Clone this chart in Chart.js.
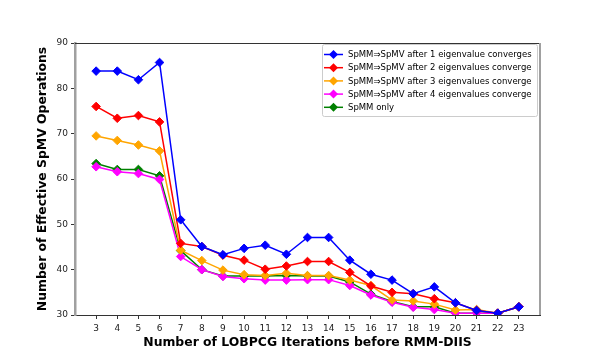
<!DOCTYPE html>
<html>
<head>
<meta charset="utf-8">
<script src="https://cdn.jsdelivr.net/npm/chart.js@4/dist/chart.umd.min.js"></script>
<style>
  html, body { margin: 0; padding: 0; background: #fff; }
  #wrap { width: 600px; height: 360px; }
</style>
</head>
<body>
<div id="wrap"><canvas id="lobpcg"></canvas></div>
<script>
const iterations = [3, 4, 5, 6, 7, 8, 9, 10, 11, 12, 13, 14, 15, 16, 17, 18, 19, 20, 21, 22, 23];
const yTicks = [30, 40, 50, 60, 70, 80, 90];

const after1 = [83.8, 83.8, 81.9, 85.7, 51.0, 45.1, 43.3, 44.7, 45.4, 43.4, 47.1, 47.1, 42.1, 39.0, 37.7, 34.7, 36.2, 32.7, 31.0, 30.4, 31.8];
const after2 = [76.0, 73.4, 74.0, 72.6, 45.8, 45.1, 43.2, 42.1, 40.1, 40.8, 41.8, 41.8, 39.4, 36.4, 35.0, 34.7, 33.6, 32.7, 31.0, 30.4, 31.8];
const after3 = [69.5, 68.5, 67.5, 66.2, 44.3, 42.0, 39.9, 38.9, 38.7, 39.2, 38.7, 38.7, 37.7, 36.5, 33.3, 33.1, 32.4, 31.1, 31.2, 30.4, 31.8];
const after4 = [62.7, 61.6, 61.2, 59.9, 42.9, 40.0, 38.5, 38.0, 37.7, 37.7, 37.8, 37.8, 36.5, 34.4, 32.8, 31.7, 31.2, 30.4, 30.4, 30.4, 31.8];
const spmmOnly = [63.4, 62.1, 62.1, 60.7, 44.2, 40.0, 38.6, 38.6, 38.6, 38.7, 38.6, 38.6, 37.3, 34.6, 33.0, 31.8, 31.8, 30.4, 30.4, 30.4, 31.8];

const labels = [
  'SpMM\u21D2SpMV after 1 eigenvalue converges',
  'SpMM\u21D2SpMV after 2 eigenvalues converge',
  'SpMM\u21D2SpMV after 3 eigenvalues converge',
  'SpMM\u21D2SpMV after 4 eigenvalues converge',
  'SpMM only'
];
const colors = ['#0000ff', '#ff0000', '#ffa500', '#ff00ff', '#008000'];
const series = [after1, after2, after3, after4, spmmOnly];

const FONT = "'DejaVu Sans', sans-serif";

function makeSet(i) {
  return {
    label: labels[i],
    data: iterations.map((x, k) => ({x: x, y: series[i][k]})),
    borderColor: colors[i],
    backgroundColor: colors[i],
    borderWidth: 1.5,
    pointStyle: 'rectRot',
    pointRadius: 4.3,
    pointHoverRadius: 4.3,
    pointBorderWidth: 1,
    tension: 0
  };
}

// matplotlib style box legend inside the plot, upper right
const boxLegend = {
  id: 'boxLegend',
  afterDatasetsDraw(chart) {
    const ctx = chart.ctx;
    const area = chart.chartArea;
    const right = area.right - 3, left = right - 215, top = area.top + 1, bottom = top + 72;
    ctx.save();
    ctx.fillStyle = 'rgba(255,255,255,0.85)';
    ctx.strokeStyle = '#cccccc';
    ctx.lineWidth = 1;
    ctx.beginPath();
    ctx.roundRect(left + 0.5, top + 0.5, right - left, bottom - top, 2);
    ctx.fill();
    ctx.stroke();
    ctx.font = '8.5px ' + FONT;
    ctx.textBaseline = 'middle';
    chart.data.datasets.forEach((ds, i) => {
      const y = top + 10.5 + i * 13.2;
      ctx.strokeStyle = ds.borderColor;
      ctx.lineWidth = 1.5;
      ctx.beginPath();
      ctx.moveTo(left + 2, y);
      ctx.lineTo(left + 21, y);
      ctx.stroke();
      ctx.fillStyle = ds.borderColor;
      ctx.beginPath();
      ctx.moveTo(left + 11.5, y - 4.5);
      ctx.lineTo(left + 16, y);
      ctx.lineTo(left + 11.5, y + 4.5);
      ctx.lineTo(left + 7, y);
      ctx.closePath();
      ctx.fill();
      ctx.fillStyle = '#000';
      ctx.fillText(ds.label, left + 26, y + 0.5);
    });
    ctx.restore();
  },
  beforeDatasetsDraw(chart) {
    // top and right spines
    const ctx = chart.ctx;
    const a = chart.chartArea;
    ctx.save();
    ctx.strokeStyle = '#333';
    ctx.lineWidth = 1;
    ctx.beginPath();
    ctx.moveTo(a.left, a.top + 0.5);
    ctx.lineTo(a.right, a.top + 0.5);
    ctx.stroke();
    ctx.strokeStyle = '#a0a0a0';
    ctx.lineWidth = 2;
    ctx.beginPath();
    ctx.moveTo(a.right, a.top);
    ctx.lineTo(a.right, a.bottom);
    ctx.stroke();
    ctx.restore();
  }
};

new Chart(document.getElementById('lobpcg'), {
  type: 'line',
  data: { datasets: [0, 1, 2, 3, 4].map(makeSet) },
  options: {
    responsive: true,
    maintainAspectRatio: false,
    animation: false,
    layout: { padding: { left: 0, right: 60, top: 43, bottom: 0 } },
    plugins: {
      legend: { display: false },
      tooltip: { enabled: false }
    },
    scales: {
      x: {
        type: 'linear',
        min: 2,
        max: 24,
        afterBuildTicks: (axis) => { axis.ticks = iterations.map(v => ({value: v})); },
        afterFit: (axis) => { axis.height = 45; },
        grid: { drawOnChartArea: false, drawTicks: true, tickLength: 4, color: '#333' },
        border: { color: '#333', width: 1 },
        ticks: { font: { family: FONT, size: 9 }, color: '#222', padding: 4, maxRotation: 0, autoSkip: false },
        title: {
          display: true,
          text: 'Number of LOBPCG Iterations before RMM-DIIS',
          font: { family: FONT, size: 12.4, weight: 'bold' },
          color: '#000',
          padding: { top: 0, bottom: 10 }
        }
      },
      y: {
        min: 30,
        max: 90,
        afterBuildTicks: (axis) => { axis.ticks = yTicks.map(v => ({value: v})); },
        afterFit: (axis) => { axis.width = 75; },
        grid: { drawOnChartArea: false, drawTicks: true, tickLength: 4, color: '#333' },
        border: { color: '#a0a0a0', width: 2.5 },
        ticks: { font: { family: FONT, size: 9 }, color: '#222', padding: 3 },
        title: {
          display: true,
          text: 'Number of Effective SpMV Operations',
          font: { family: FONT, size: 12.4, weight: 'bold' },
          color: '#000',
          padding: { top: 35, bottom: 0 }
        }
      }
    }
  },
  plugins: [boxLegend]
});
</script>
</body>
</html>
